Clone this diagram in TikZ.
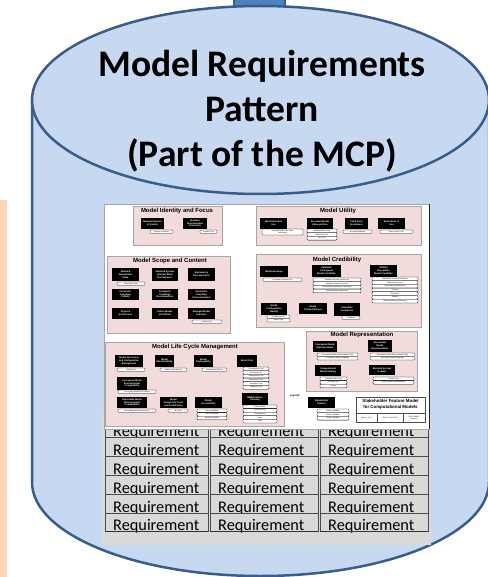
\documentclass[tikz,border=0pt]{standalone}
\usepackage{fontspec}
\setmainfont{Carlito}
\newfontfamily\arialfont{Liberation Sans}
\usetikzlibrary{positioning}
\definecolor{canfill}{HTML}{C6D9F1}
\definecolor{canline}{HTML}{385D8A}
\definecolor{lidblue}{HTML}{4F81BD}
\definecolor{peach}{HTML}{FCD5B5}
\definecolor{grouppink}{HTML}{F2DCDB}
\definecolor{reqgray}{HTML}{D9D9D9}

\tikzset{
  groupbox/.style={draw=gray!70, line width=0.4pt, fill=grouppink},
  grouptitle/.style={font=\arialfont\bfseries\fontsize{6}{7}\selectfont, inner sep=0pt},
  featbox/.style={fill=black, text=white, align=center, inner sep=0pt,
    font=\arialfont\bfseries\fontsize{2.3}{2.7}\selectfont},
  attrbox/.style={draw=black, line width=0.3pt, fill=white, rounded corners=1pt,
    align=center, inner sep=0pt, font=\arialfont\fontsize{1.8}{2}\selectfont},
  reqcell/.style={draw=gray!60!black, line width=0.4pt, fill=reqgray,
    inner sep=0pt, anchor=north west, minimum height=18.8pt},
  reqtext/.style={font=\fontsize{16.3}{18}\selectfont, inner sep=0pt, anchor=base west},
  titletext/.style={font=\bfseries\fontsize{37.5}{45}\selectfont, inner sep=0pt, anchor=base},
}

% feature box: name, x1, y1, x2, y2, text
\newcommand{\feat}[6]{%
  \node[featbox, minimum width={#4-#2}, minimum height={#5-#3}] (#1)
    at ({(#2+#4)/2},{(#3+#5)/2}) {#6};}
% attribute stack: name, x1, x2, top, row height, list
\newcommand{\attrs}[6]{%
  \foreach \t [count=\i] in {#6} {
    \node[attrbox, minimum width={#3-#2}, minimum height={#5}] (#1-\i)
      at ({(#2+#3)/2},{#4+(\i-0.5)*#5}) {\t};
  }}

\begin{document}
\begin{tikzpicture}[x=1pt, y=-1pt]
    \useasboundingbox (0,0) rectangle (487,577);

    % Side strip
    \fill[peach] (0,200) rectangle (7,577);

    % Lid tab
    \draw[canline, line width=1.5pt, fill=lidblue] (234,-3) rectangle (285,12);

    % Cylinder
    \draw[canline, line width=2.5pt, fill=canfill] (32,100) -- (32,482)
        arc[start angle=180, end angle=360, x radius=228.5pt, y radius=94pt] -- (489,100);
    \draw[canline, line width=2.5pt, fill=canfill] (260.5,100) ellipse [x radius=228.5pt, y radius=94pt];

    % Title
    \node[titletext] (title1) at (262,77) {Model Requirements};
    \node[titletext] (title2) at (262,122) {Pattern};
    \node[titletext] (title3) at (262,167) {(Part of the MCP)};

    % Requirement table
    \fill[reqgray] (102,412) rectangle (431,545);
    \foreach \cx/\cw in {105/103, 210/108, 320/108} {
        \foreach \r in {0,...,5} {
            \node[reqcell, minimum width=\cw] (req-\cx-\r) at (\cx, 418.5+18.8*\r) {};
            \node[reqtext] (reqt-\cx-\r) at (\cx+8, 436.9+18.8*\r) {Requirement};
            \draw[black!80, line width=0.8pt] (req-\cx-\r.south west) -- (req-\cx-\r.south east);
        }
    }

    % Feature model sheet
    \draw[gray!70, line width=0.4pt, fill=white] (104,204) rectangle (429,429);
    \draw[gray!30!black, line width=0.6pt] (429,204) -- (429,429);

    % Groups
    \draw[groupbox] (133,206) rectangle (222,245);
    \node[grouptitle] (identity) at (177,211) {Model Identity and Focus};
    \draw[groupbox] (256,206) rectangle (421,245);
    \node[grouptitle] (utility) at (338,211) {Model Utility};
    \draw[groupbox] (107,256) rectangle (230,333);
    \node[grouptitle] (scope) at (170,261) {Model Scope and Content};
    \draw[groupbox] (256,254) rectangle (421,327);
    \node[grouptitle] (credibility) at (337,260) {Model Credibility};
    \draw[groupbox] (306,331) rectangle (417,391);
    \node[grouptitle] (representation) at (362,335) {Model Representation};
    \draw[groupbox] (105,342) rectangle (284,426);
    \node[grouptitle] (lifecycle) at (195,347) {Model Life Cycle Management};

    % Model Identity and Focus
    \feat{soi}{141}{218}{164}{229}{Modeled System\\of Interest}
    \attrs{soia}{150}{173}{230}{3.5}{System of Interest}
    \feat{env}{183}{218}{207}{229}{Modeled\\Environmental\\Domain(s)}
    \attrs{enva}{200}{217}{230}{3.5}{Domain Type}

    % Model Utility
    \feat{use}{260}{218}{287}{229}{Model Intended\\Use}
    \attrs{usea}{262}{303}{229}{6}{Intended Model Use Case\\Description}
    \feat{value}{307}{218}{333}{229}{Perceived Model\\Value and Use}
    \attrs{valuea}{307}{337}{229}{3.7}{Modeled Value Level, Model Use Rate, Use Cost}
    \feat{third}{345}{218}{368}{229}{Third Party\\Acceptance}
    \attrs{thirda}{343}{372}{230}{3.5}{Accepting Authority}
    \feat{ease}{378}{218}{405}{229}{Model Ease of\\Use}
    \attrs{easea}{380}{413}{230}{3.5}{Ease of Use Level}

    % Model Scope and Content
    \feat{stake}{112}{268}{139}{281}{Modeled\\Stakeholder\\Value}
    \attrs{stakea}{117}{145}{282}{3.5}{Stakeholder Type}
    \feat{blackbox}{152}{268}{178}{281}{Modeled System\\External Black\\Box Behavior}
    \feat{explain}{188}{268}{215}{281}{Explanatory\\Decomposition}
    \feat{fidelity}{112}{289}{139}{300}{Parametric\\Couplings\\Fidelity}
    \feat{decomp}{152}{289}{178}{300}{Parametric\\Couplings\\Decomposition}
    \feat{charact}{188}{289}{215}{300}{Parametric\\Couplings\\Characterization}
    \feat{physical}{112}{308}{139}{319}{Physical\\Architecture}
    \feat{failure}{152}{308}{178}{319}{Failure Modes\\and Effects}
    \feat{datasets}{188}{308}{215}{319}{Managed Model\\Datasets}
    \attrs{datasetsa}{192}{222}{320}{3.5}{Dataset Type}

    % Model Credibility
    \feat{envelope}{260}{266}{288}{277}{Model Envelope}
    \attrs{envelopea}{263}{302}{278}{3.5}{Envelope Parameter Set}
    \feat{validated}{312}{265}{341}{277}{Validated\\Conceptual\\Model Credibility}
    \attrs{validateda}{313}{361}{278}{3.7}{Validation Accuracy Reference, Validation Domain Accuracy, Uncertainty Quantification Reference, Model Validation Reference}
    \feat{verified}{370}{265}{397}{277}{Verified\\Executable\\Model Credibility}
    \attrs{verifieda}{372}{418}{277}{3.7}{Verification Accuracy Reference, Numerical Accuracy, Uncertainty Quantification, Speed, Resolution, Stability, Model Verification Reference}
    \feat{config}{261}{303}{287}{315}{Model\\Configuration\\Identity}
    \attrs{configa}{267}{290}{315}{3.5}{Configuration ID, Model Type}
    \feat{trust}{299}{303}{327}{314}{Model\\Trustworthiness}
    \feat{standards}{334}{303}{360}{316}{Standards\\Compliance}
    \attrs{standardsa}{342}{360}{316}{3.5}{Standard}

    % Model Representation
    \feat{concrep}{313}{341}{337}{352}{Conceptual Model\\Representation}
    \attrs{concrepa}{317}{358}{353}{3.5}{Conceptual Model Representation Type, Conceptual Model Language}
    \feat{execrep}{368}{340}{392}{352}{Executable\\Model\\Representation}
    \attrs{execrepa}{370}{415}{353}{3.5}{Executable Model Representation Type, Executable Model Language}
    \feat{viewing}{315}{365}{341}{376}{Computational\\Model Viewing}
    \attrs{viewinga}{320}{347}{377}{3.6}{Viewable Model Type, Viewing Type, Viewer}
    \feat{context}{369}{365}{395}{375}{Modeled System\\Context}
    \attrs{contexta}{373}{414}{377}{3.6}{Context Type, System Model Representation}

    % Model Life Cycle Management
    \feat{versioning}{115}{355}{143}{367}{Model Versioning\\and Configuration\\Management}
    \attrs{versioninga}{117}{145}{368}{3.5}{CM Method}
    \feat{maintain}{155}{355}{174}{367}{Model\\Maintainability}
    \attrs{maintaina}{160}{187}{368}{3.5}{Maintenance Method}
    \feat{deploy}{194}{355}{213}{367}{Model\\Deployability}
    \attrs{deploya}{202}{227}{368}{3.5}{Deployment Method}
    \feat{cost}{237}{355}{257}{367}{Model Cost}
    \attrs{costa}{243}{269}{367}{3.7}{Development Cost, Operating Cost, Maintenance Cost, Deployment Cost, Verification Cost, Validation Cost}
    \feat{concenv}{117}{377}{147}{390}{Conceptual Model\\Environmental\\Compatibility}
    \attrs{concenva}{118}{156}{390}{3.5}{Conceptual Model Environment}
    \feat{execenv}{117}{397}{147}{408}{Executable Model\\Environmental\\Compatibility}
    \attrs{execenva}{118}{156}{409}{3.5}{Executable Model Environment}
    \feat{design}{160}{397}{187}{408}{Model\\Design Life Cycle\\and Architecture}
    \attrs{designa}{168}{188}{409}{3.5}{Life Cycle}
    \feat{access}{195}{397}{222}{408}{Model\\Accessibility}
    \attrs{accessa}{197}{227}{409}{3.6}{Access Method, Access Security, Model Availability}
    \feat{tailor}{242}{393}{268}{405}{MBSE Pattern\\Tailoring}
    \attrs{tailora}{243}{277}{405}{3.6}{Pattern Name, Tailoring Level, Configuration, Roles, Tools}

    % Legend
    \node[font=\arialfont\bfseries\fontsize{2.6}{3}\selectfont, inner sep=0pt] (legend) at (295,396) {Legend:};
    \feat{legendfeat}{308}{397}{335}{408}{Stakeholder\\Feature}
    \attrs{legenda}{317}{349}{409}{3.7}{Feature Attribute, Feature Attribute, Feature Attribute}

    % Sheet title block
    \draw[gray!60!black, line width=0.4pt] (356,397) rectangle (425,422);
    \node[font=\arialfont\bfseries\fontsize{4.4}{5.6}\selectfont, align=center, inner sep=0pt] (sheettitle)
        at (390.5,404.5) {Stakeholder Feature Model\\for Computational Models};
    \draw[gray!60!black, line width=0.3pt] (356,413) -- (425,413);
    \draw[gray!60!black, line width=0.3pt] (377,413) -- (377,422);
    \draw[gray!60!black, line width=0.3pt] (403,413) -- (403,422);
    \node[font=\arialfont\fontsize{1.8}{2}\selectfont, inner sep=0pt] (version) at (366.5,417.5) {Version 1.6.2};
    \node[font=\arialfont\fontsize{1.8}{2}\selectfont, inner sep=0pt] (date) at (390,417.5) {Date: 10-Jul-2018};
    \node[font=\arialfont\fontsize{1.8}{2}\selectfont, align=center, inner sep=0pt] (owner) at (414,417.5) {ISE \& MBSE\\Patterns};
\end{tikzpicture}
\end{document}
